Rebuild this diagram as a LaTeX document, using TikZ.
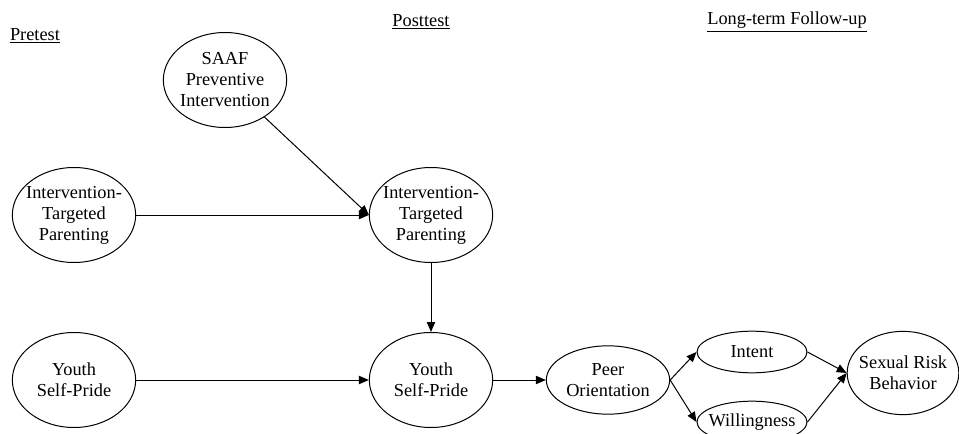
\documentclass[tikz,border=0pt]{standalone}
\usepackage{fontspec}
\setmainfont{Liberation Serif}
\usetikzlibrary{shapes.geometric,arrows.meta}

\begin{document}
\begin{tikzpicture}[
    x=0.6pt, y=-0.6pt,
    bigvar/.style={draw, ellipse, line width=0.6pt, minimum width=74pt, minimum height=57pt, inner xsep=-3pt, inner ysep=0pt, align=center, font=\fontsize{11}{12.6}\selectfont},
    midvar/.style={bigvar, minimum height=41pt},
    smallvar/.style={bigvar, minimum width=66pt, minimum height=25pt},
    outvar/.style={bigvar, minimum width=67pt, minimum height=50pt},
    effect/.style={-{Triangle[length=6pt,width=5pt]}, line width=0.6pt},
    wave/.style={font=\fontsize{11}{13}\selectfont, inner sep=0pt}
]

\clip (0,0) rectangle (959,434);

% measurement waves
\node[wave] (pre)    at (35,36)  {\underline{Pretest}};
\node[wave] (post)   at (421,22) {\underline{Posttest}};
\node[wave] (follow) at (787,22) {\underline{Long-term Follow-up}};

\node[bigvar] (saaf) at (225,80)  {SAAF\\Preventive\\Intervention};
\node[bigvar] (itp1) at (74,215)  {Intervention-\\Targeted\\Parenting};
\node[bigvar] (itp2) at (431,215) {Intervention-\\Targeted\\Parenting};
\node[bigvar] (ysp1) at (74,380)  {Youth\\Self-Pride};
\node[bigvar] (ysp2) at (431,380) {Youth\\Self-Pride};
\node[midvar] (peer) at (608,380) {Peer\\Orientation};
\node[smallvar] (intent) at (752,352) {Intent};
\node[smallvar] (will)   at (752,422) {Willingness};
\node[outvar] (srb) at (903,373) {Sexual Risk\\Behavior};

% paths
\draw[effect] (saaf) -- (itp2.west);
\draw[effect] (itp1) -- (itp2);
\draw[effect] (itp2) -- (ysp2);
\draw[effect] (ysp1) -- (ysp2);
\draw[effect] (ysp2) -- (peer);
\draw[effect] (peer.east) -- (intent.west);
\draw[effect] (peer.east) -- (will.west);
\draw[effect] (intent.east) -- (srb.west);
\draw[effect] (will.east) -- (srb.west);

\end{tikzpicture}
\end{document}
